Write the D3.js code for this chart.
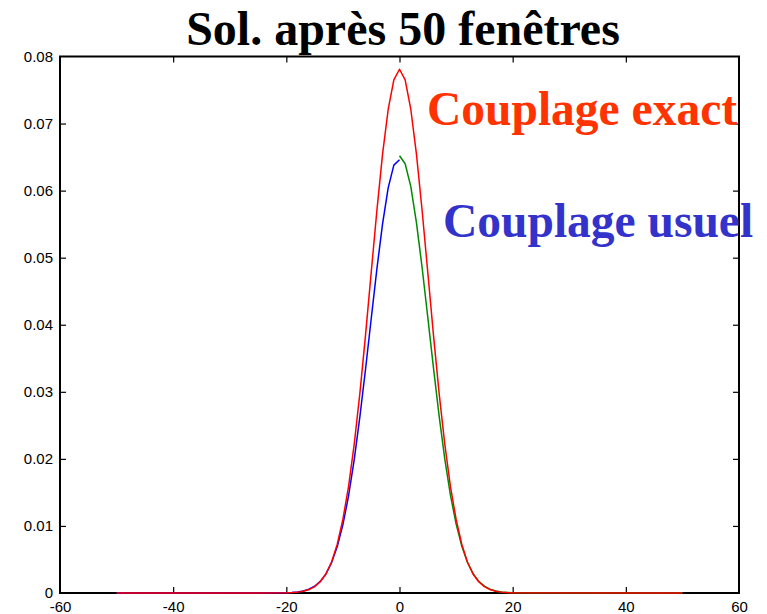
<!DOCTYPE html>
<html>
<head>
<meta charset="utf-8">
<script src="https://cdn.jsdelivr.net/npm/d3@7"></script>
<style>
  html, body { margin: 0; padding: 0; background: #ffffff; }
  svg { display: block; }
</style>
</head>
<body>
<svg id="chart" width="767" height="614"></svg>
<script>
// Solution profiles after 50 windows
const titleText = "Sol. après 50 fenêtres";

// Exact coupling (red), whole domain
const exactX = [-50, -20, -19, -18, -17, -16, -15, -14, -13, -12, -11, -10, -9, -8, -7, -6, -5, -4, -3, -2, -1,
                0, 1, 2, 3, 4, 5, 6, 7, 8, 9, 10, 11, 12, 13, 14, 15, 16, 17, 18, 19, 20, 50];
const exactY = [0, 0.00002, 0.00006, 0.00013, 0.00027, 0.00051, 0.00095, 0.00167, 0.00284, 0.00463, 0.00727,
                0.0110, 0.0159, 0.0222, 0.0298, 0.0385, 0.0478, 0.0570, 0.0654, 0.0721, 0.0765,
                0.0781, 0.0765, 0.0721, 0.0654, 0.0570, 0.0478, 0.0385, 0.0298, 0.0222, 0.0159, 0.0110,
                0.00727, 0.00463, 0.00284, 0.00167, 0.00095, 0.00051, 0.00027, 0.00013, 0.00006, 0.00002, 0];

// Usual coupling, left sub-domain (blue)
const usuelGaucheX = [-50, -20, -19, -18, -17, -16, -15, -14, -13, -12, -11, -10, -9, -8, -7, -6, -5, -4, -3, -2, -1, 0];
const usuelGaucheY = [0, 0.00004, 0.00008, 0.00016, 0.00031, 0.00057, 0.00101, 0.00173, 0.00285, 0.00454, 0.00694,
                      0.0102, 0.0145, 0.0199, 0.0263, 0.0334, 0.0409, 0.0483, 0.0550, 0.0604, 0.0638, 0.0646];

// Usual coupling, right sub-domain (green)
const usuelDroiteX = [0, 1, 2, 3, 4, 5, 6, 7, 8, 9, 10, 11, 12, 13, 14, 15, 16, 17, 18, 19, 20, 50];
const usuelDroiteY = [0.0652, 0.0640, 0.0606, 0.0552, 0.0485, 0.0411, 0.0336, 0.0264, 0.0200, 0.0146, 0.0103,
                      0.00700, 0.00458, 0.00288, 0.00175, 0.00102, 0.00057, 0.00031, 0.00016, 0.00008, 0.00004, 0];

const xTicks = [-60, -40, -20, 0, 20, 40, 60];
const yTicks = [0, 0.01, 0.02, 0.03, 0.04, 0.05, 0.06, 0.07, 0.08];
const xTickLabels = ["-60", "-40", "-20", "0", "20", "40", "60"];
const yTickLabels = ["0", "0.01", "0.02", "0.03", "0.04", "0.05", "0.06", "0.07", "0.08"];

const svg = d3.select("#chart");
const plotLeft = 60, plotRight = 739, plotTop = 56.5, plotBottom = 593;

const x = d3.scaleLinear().domain([-60, 60]).range([plotLeft, plotRight]);
const y = d3.scaleLinear().domain([0, 0.08]).range([plotBottom, plotTop]);

svg.append("rect").attr("width", 767).attr("height", 614).attr("fill", "#ffffff");

// Frame with inward ticks on all four sides
const tickLen = 6;
const axisFont = "'Liberation Sans', Arial, Helvetica, sans-serif";
const innerX = xTicks.slice(1, -1);
const innerY = yTicks.slice(1, -1);

function styleAxis(g) {
  g.select(".domain").remove();
  g.selectAll(".tick line").attr("stroke", "#000").attr("stroke-width", 1.2);
  g.selectAll(".tick text").attr("fill", "#000").style("font-family", axisFont).style("font-size", "15px");
}

// tick marks (inner values only, the frame covers the ends)
svg.append("g").attr("transform", `translate(0,${plotBottom})`)
  .call(d3.axisBottom(x).tickValues(innerX).tickSize(-tickLen).tickFormat("")).call(styleAxis);
svg.append("g").attr("transform", `translate(0,${plotTop})`)
  .call(d3.axisTop(x).tickValues(innerX).tickSize(-tickLen).tickFormat("")).call(styleAxis);
svg.append("g").attr("transform", `translate(${plotLeft},0)`)
  .call(d3.axisLeft(y).tickValues(innerY).tickSize(-tickLen).tickFormat("")).call(styleAxis);
svg.append("g").attr("transform", `translate(${plotRight},0)`)
  .call(d3.axisRight(y).tickValues(innerY).tickSize(-tickLen).tickFormat("")).call(styleAxis);

// tick labels
const xLabAxis = svg.append("g").attr("transform", `translate(0,${plotBottom})`)
  .call(d3.axisBottom(x).tickValues(xTicks).tickSize(0).tickPadding(8)
    .tickFormat((d, i) => xTickLabels[i])).call(styleAxis);
xLabAxis.selectAll(".tick line").remove();
const yLabAxis = svg.append("g").attr("transform", `translate(${plotLeft},0)`)
  .call(d3.axisLeft(y).tickValues(yTicks).tickSize(0).tickPadding(7)
    .tickFormat((d, i) => yTickLabels[i])).call(styleAxis);
yLabAxis.selectAll(".tick line").remove();

svg.append("rect")
  .attr("x", plotLeft).attr("y", plotTop)
  .attr("width", plotRight - plotLeft).attr("height", plotBottom - plotTop)
  .attr("fill", "none").attr("stroke", "#000").attr("stroke-width", 2);

// Curves
const line = d3.line().x(d => x(d[0])).y(d => y(d[1]));

function draw(xs, ys, color, w) {
  svg.append("path")
    .datum(xs.map((v, i) => [v, ys[i]]))
    .attr("d", line)
    .attr("fill", "none")
    .attr("stroke", color)
    .attr("stroke-width", w)
    .attr("stroke-linejoin", "round");
}

draw(usuelGaucheX, usuelGaucheY, "#0000ff", 1.5);
draw(usuelDroiteX, usuelDroiteY, "#008a00", 1.5);
draw(exactX, exactY, "#ff0000", 1.5);

// Title and annotations
const serif = "'Liberation Serif', 'Times New Roman', Times, serif";
svg.append("text")
  .attr("x", 403).attr("y", 45)
  .attr("text-anchor", "middle")
  .style("font-family", serif).style("font-weight", "bold").style("font-size", "48px")
  .attr("fill", "#000")
  .text(titleText);

svg.append("text")
  .attr("x", 427).attr("y", 125)
  .style("font-family", serif).style("font-weight", "bold").style("font-size", "47.5px")
  .attr("fill", "#ff3300")
  .text("Couplage exact");

svg.append("text")
  .attr("x", 443).attr("y", 237)
  .style("font-family", serif).style("font-weight", "bold").style("font-size", "47.5px")
  .attr("fill", "#3333cc")
  .text("Couplage usuel");
</script>
</body>
</html>
